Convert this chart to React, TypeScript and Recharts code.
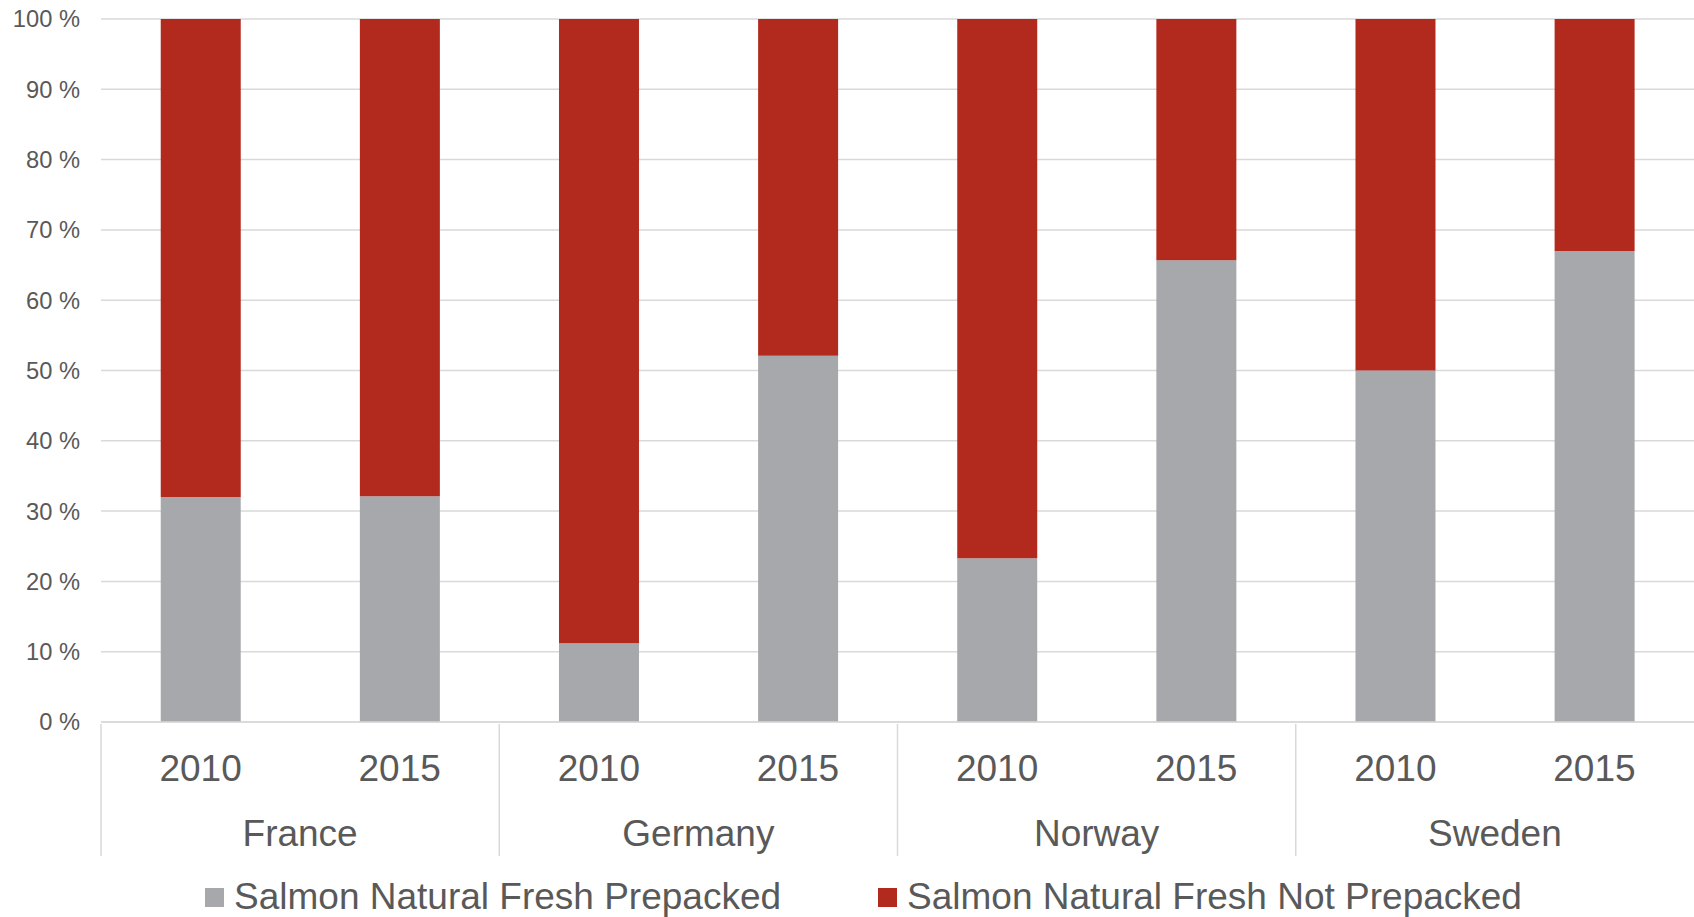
import { Bar, BarChart, CartesianGrid, XAxis, YAxis } from "recharts";

const countries = ["France", "Germany", "Norway", "Sweden"];
const years = ["2010", "2015"];
// share of salmon sales, %
const prepacked = [32.0, 32.1, 11.2, 52.1, 23.3, 65.7, 50.0, 67.0];
const notPrepacked = [68.0, 67.9, 88.8, 47.9, 76.7, 34.3, 50.0, 33.0];
const yTicks = [0, 10, 20, 30, 40, 50, 60, 70, 80, 90, 100];
const seriesNames = ["Salmon Natural Fresh Prepacked", "Salmon Natural Fresh Not Prepacked"];

const COLORS = {
  gray: "#A7A8AC",
  red: "#B22A1E",
  text: "#595959",
  grid: "#D9D9D9",
};

const W = 1694;
const H = 917;
const Y_AXIS_W = 101;
const PLOT_W = W - Y_AXIS_W;
const FONT = "'Liberation Sans', Arial, sans-serif";

const data = countries.flatMap((country, ci) =>
  years.map((year, yi) => {
    const i = ci * years.length + yi;
    return { country, year, prepacked: prepacked[i], notPrepacked: notPrepacked[i] };
  })
);

function CountryTick(props: any) {
  const { x, y, payload } = props;
  const group = PLOT_W / countries.length;
  const left = x - group / 2;
  return (
    <g>
      <line x1={left} x2={left} y1={y - 66} y2={y + 66} stroke={COLORS.grid} strokeWidth={1.5} />
      <text
        x={x}
        y={y + 56}
        textAnchor="middle"
        fill={COLORS.text}
        fontSize={37}
        fontFamily={FONT}
      >
        {payload.value}
      </text>
    </g>
  );
}

export default function App() {
  const legendColors = [COLORS.gray, COLORS.red];
  return (
    <div style={{ position: "absolute", left: 0, top: 0, width: W, height: H, background: "#fff" }}>
      <BarChart
        width={W}
        height={H}
        data={data}
        margin={{ top: 19, right: 0, bottom: 63, left: 0 }}
        barCategoryGap="30%"
      >
        <CartesianGrid vertical={false} stroke={COLORS.grid} strokeWidth={1.5} />
        <YAxis
          width={Y_AXIS_W}
          domain={[0, 100]}
          ticks={yTicks}
          tickFormatter={(v) => `${v} %`}
          axisLine={false}
          tickLine={false}
          tickSize={0}
          tickMargin={21}
          tick={{ fill: COLORS.text, fontSize: 23.7, fontFamily: FONT }}
        />
        <XAxis
          dataKey="year"
          height={66}
          axisLine={{ stroke: COLORS.grid, strokeWidth: 1.5 }}
          tickLine={false}
          tickSize={0}
          tickMargin={33}
          interval={0}
          tick={{ fill: COLORS.text, fontSize: 37, fontFamily: FONT }}
        />
        <XAxis
          xAxisId="country"
          dataKey="country"
          allowDuplicatedCategory={false}
          height={66}
          axisLine={false}
          tickLine={false}
          tickSize={0}
          interval={0}
          tick={<CountryTick />}
        />
        <Bar dataKey="prepacked" name={seriesNames[0]} stackId="a" fill={COLORS.gray} isAnimationActive={false} />
        <Bar dataKey="notPrepacked" name={seriesNames[1]} stackId="a" fill={COLORS.red} isAnimationActive={false} />
      </BarChart>
      <div
        style={{
          position: "absolute",
          left: 205,
          top: 878,
          display: "flex",
          alignItems: "center",
          gap: 97,
          fontFamily: FONT,
          fontSize: 37,
          lineHeight: "38px",
          color: COLORS.text,
          whiteSpace: "nowrap",
        }}
      >
        {seriesNames.map((name, i) => (
          <div key={name} style={{ display: "flex", alignItems: "center", gap: 10 }}>
            <span style={{ display: "inline-block", width: 19, height: 19, background: legendColors[i] }} />
            <span>{name}</span>
          </div>
        ))}
      </div>
    </div>
  );
}
